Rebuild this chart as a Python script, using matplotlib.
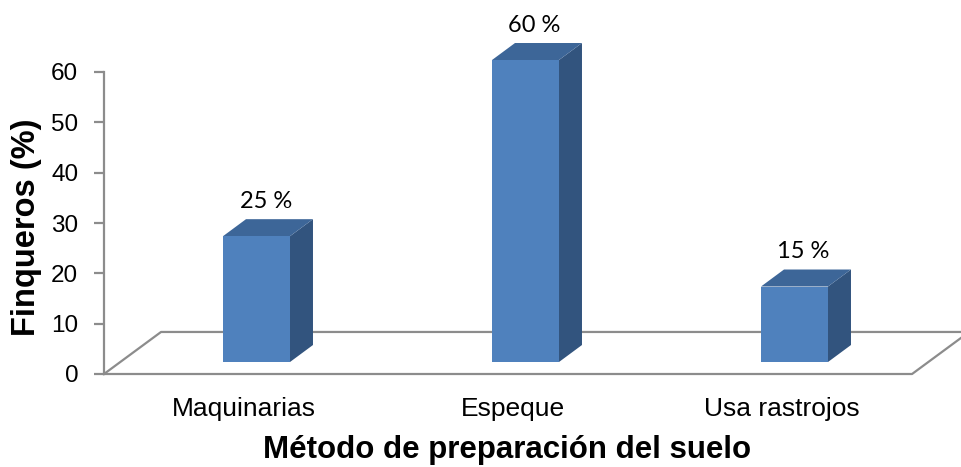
import matplotlib
matplotlib.use("Agg")
from matplotlib import pyplot as plt
from matplotlib.patches import Polygon

categories = ["Maquinarias", "Espeque", "Usa rastrojos"]
values = [25, 60, 15]
value_labels = ["25 %", "60 %", "15 %"]
yticks = [0, 10, 20, 30, 40, 50, 60]

front = "#4F81BD"
top = "#3D6698"
side = "#32547E"
grey = "#8C8C8C"

# set up figure (pixel geometry of the reference)
W, H = 962, 467
fig = plt.figure(figsize=(W / 100, H / 100), dpi=100)
ax = fig.add_axes([104 / W, (H - 374) / H, (W - 104) / W, (374 - 72) / H])
ax.set_xlim(-0.5669, 2.6227)
ax.set_ylim(0, 60)

# 3d offsets in data units
bar_w = 0.249
bdx, bdy = 0.0855, 3.38      # bar depth
fdx, fdy = 0.212, 8.35       # floor depth
base = 2.38                  # bar front sits half way into the floor

# floor outline (behind the bars)
x0, x1 = -0.5669, 2.437
ax.plot([x0, x0 + fdx, 2.66], [0, fdy, fdy], color=grey, lw=1.6, clip_on=False, zorder=1)
ax.plot([x0, x1, x1 + fdx], [0, 0, fdy], color=grey, lw=1.6, clip_on=False, zorder=1)

for i, v in enumerate(values):
    l, r = i - bar_w / 2, i + bar_w / 2
    b, t = base, base + v
    ax.add_patch(Polygon([(r, b), (r + bdx, b + bdy), (r + bdx, t + bdy), (r, t)],
                         closed=True, fc=side, ec="none", clip_on=False, zorder=3))
    ax.add_patch(Polygon([(l, t), (r, t), (r + bdx, t + bdy), (l + bdx, t + bdy)],
                         closed=True, fc=top, ec="none", clip_on=False, zorder=3))
    ax.add_patch(Polygon([(l, b), (r, b), (r, t), (l, t)],
                         closed=True, fc=front, ec="none", clip_on=False, zorder=3))
    ax.text(i + 0.034, t + bdy + 2.2, value_labels[i], ha="center", va="baseline",
            fontsize=17, family="Lato")
    ax.text(i - 0.048, -8.34, categories[i], ha="center", va="baseline",
            fontsize=19, family="Liberation Sans")

# axis
for s in ["top", "right", "bottom"]:
    ax.spines[s].set_visible(False)
ax.spines["left"].set_color(grey)
ax.spines["left"].set_linewidth(1.6)
ax.set_xticks([])
ax.set_yticks(yticks)
ax.set_yticklabels([str(t) for t in yticks], fontsize=17.5, family="Liberation Sans")
ax.tick_params(axis="y", length=7, width=1.6, color=grey, pad=11.5)
ax.patch.set_alpha(0)

fig.text(507 / W, 1 - 458 / H, "Método de preparación del suelo", ha="center", va="baseline",
         fontsize=22.5, fontweight="bold", family="Liberation Sans")
fig.text(27 / W, 1 - 227 / H, "Finqueros (%)", ha="center", va="center", rotation=90,
         fontsize=23.5, fontweight="bold", family="Liberation Sans")

fig.savefig("out.png", dpi=100)
